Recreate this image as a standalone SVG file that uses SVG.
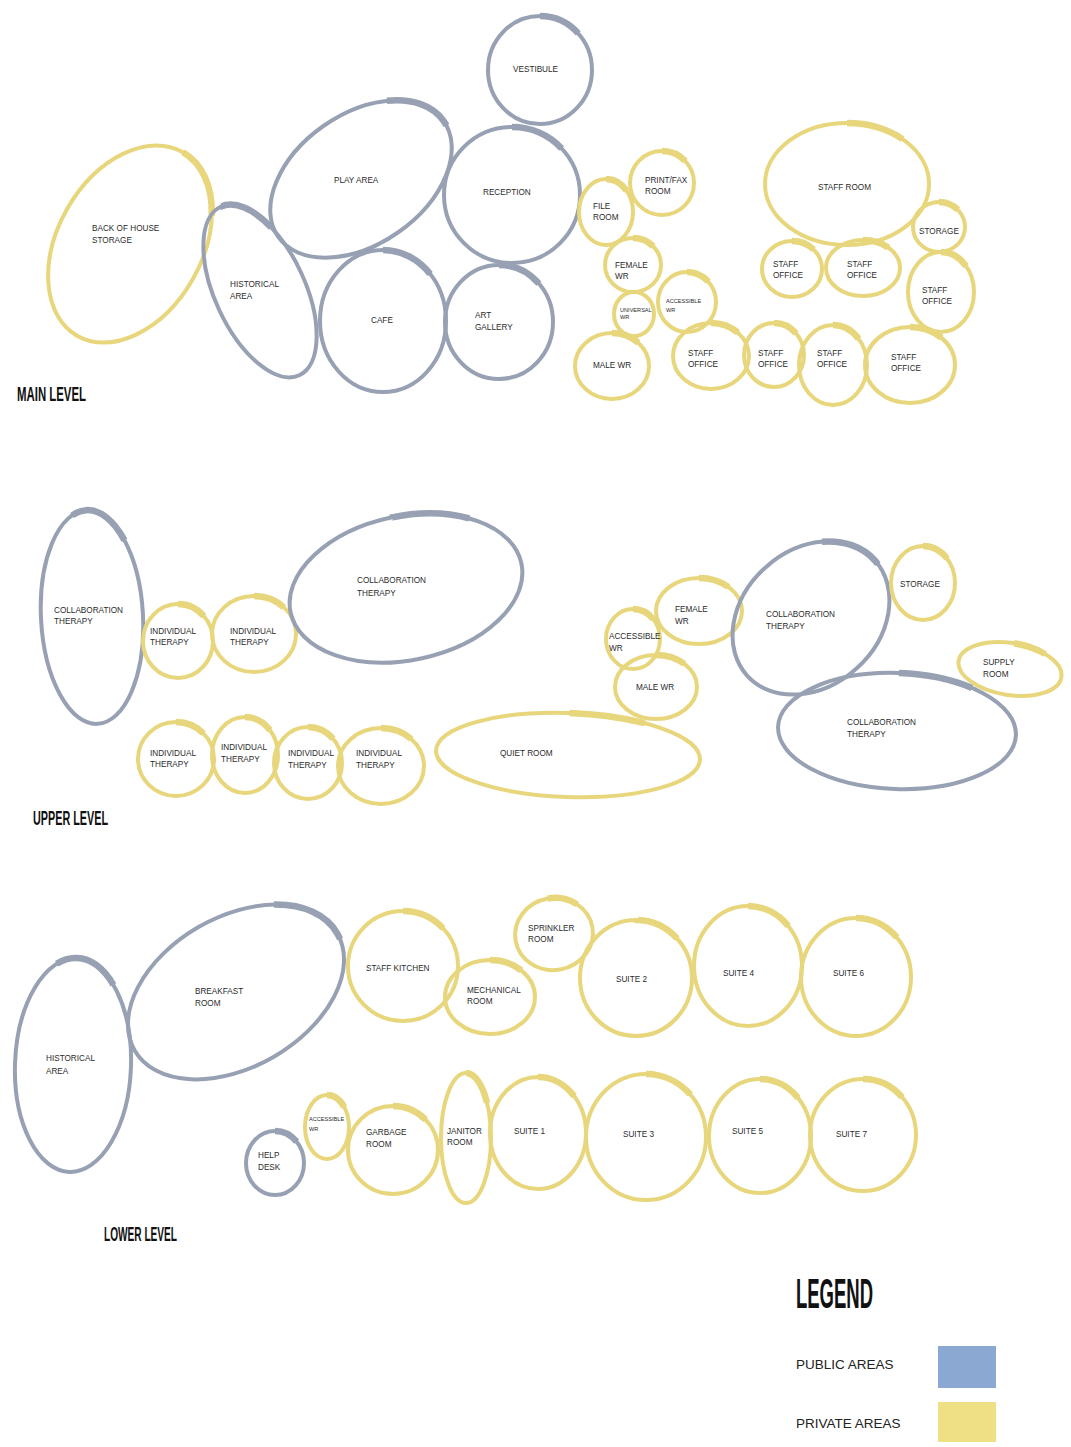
<svg xmlns="http://www.w3.org/2000/svg" width="1071" height="1447" viewBox="0 0 1071 1447">
<style>
.pub{fill:none;stroke:#97a1b3;stroke-width:4}
.pri{fill:none;stroke:#e8d67c;stroke-width:4}
.hi{stroke-width:6.5;stroke-dasharray:13 87;stroke-dashoffset:25}
.hr{stroke-dashoffset:12}
.lbl{font-family:"Liberation Sans",Arial,sans-serif;font-size:8.2px;fill:#2b2b2b}
.tiny{font-size:5.6px}
.head{font-family:"Liberation Sans",Arial,sans-serif;font-weight:bold;fill:#111}
.leg{font-family:"Liberation Sans",Arial,sans-serif;font-size:13.5px;fill:#222}
</style>
<rect width="1071" height="1447" fill="#ffffff"/>

<!-- MAIN LEVEL -->
<g id="m-vestibule"><ellipse class="pub" cx="540" cy="70" rx="52" ry="54"/><ellipse class="pub hi" cx="540" cy="70" rx="52" ry="54" pathLength="100"/><text class="lbl" x="513" y="72">VESTIBULE</text></g>
<g id="m-reception"><ellipse class="pub" cx="512" cy="195" rx="68" ry="68"/><ellipse class="pub hi" cx="512" cy="195" rx="68" ry="68" pathLength="100"/><text class="lbl" x="483" y="195">RECEPTION</text></g>
<g id="m-play"><g transform="translate(361,179) rotate(-35)"><ellipse class="pub" rx="101" ry="65"/><ellipse class="pub hi hr" rx="101" ry="65" pathLength="100"/></g><text class="lbl" x="334" y="183">PLAY AREA</text></g>
<g id="m-backofhouse"><g transform="translate(130,244) rotate(30)"><ellipse class="pri" rx="72" ry="106"/><ellipse class="pri hi" rx="72" ry="106" pathLength="100"/></g><text class="lbl" x="92" y="231">BACK OF HOUSE</text><text class="lbl" x="92" y="243">STORAGE</text></g>
<g id="m-historical"><g transform="translate(260,291) rotate(-25)"><ellipse class="pub" rx="45" ry="93"/><ellipse class="pub hi" rx="45" ry="93" pathLength="100"/></g><text class="lbl" x="230" y="287">HISTORICAL</text><text class="lbl" x="230" y="299">AREA</text></g>
<g id="m-cafe"><ellipse class="pub" cx="383" cy="321" rx="63" ry="71"/><ellipse class="pub hi" cx="383" cy="321" rx="63" ry="71" pathLength="100"/><text class="lbl" x="371" y="323">CAFE</text></g>
<g id="m-gallery"><ellipse class="pub" cx="499" cy="322" rx="54" ry="57"/><ellipse class="pub hi" cx="499" cy="322" rx="54" ry="57" pathLength="100"/><text class="lbl" x="475" y="318">ART</text><text class="lbl" x="475" y="330">GALLERY</text></g>
<g id="m-file"><ellipse class="pri" cx="606" cy="212" rx="27" ry="33"/><ellipse class="pri hi" cx="606" cy="212" rx="27" ry="33" pathLength="100"/><text class="lbl" x="593" y="209">FILE</text><text class="lbl" x="593" y="220">ROOM</text></g>
<g id="m-printfax"><ellipse class="pri" cx="662" cy="183" rx="32" ry="32"/><ellipse class="pri hi" cx="662" cy="183" rx="32" ry="32" pathLength="100"/><text class="lbl" x="645" y="183">PRINT/FAX</text><text class="lbl" x="645" y="194">ROOM</text></g>
<g id="m-femalewr"><ellipse class="pri" cx="633" cy="265" rx="28" ry="27"/><ellipse class="pri hi" cx="633" cy="265" rx="28" ry="27" pathLength="100"/><text class="lbl" x="615" y="268">FEMALE</text><text class="lbl" x="615" y="279">WR</text></g>
<g id="m-universalwr"><ellipse class="pri" cx="634" cy="314" rx="20" ry="22"/><text class="lbl tiny" x="620" y="312">UNIVERSAL</text><text class="lbl tiny" x="620" y="319">WR</text></g>
<g id="m-accessiblewr"><ellipse class="pri" cx="687" cy="302" rx="29" ry="30"/><ellipse class="pri hi" cx="687" cy="302" rx="29" ry="30" pathLength="100"/><text class="lbl tiny" x="666" y="303">ACCESSIBLE</text><text class="lbl tiny" x="666" y="312">WR</text></g>
<g id="m-malewr"><ellipse class="pri" cx="612" cy="366" rx="37" ry="33"/><ellipse class="pri hi" cx="612" cy="366" rx="37" ry="33" pathLength="100"/><text class="lbl" x="593" y="368">MALE WR</text></g>
<g id="m-office1"><ellipse class="pri" cx="711" cy="356" rx="38" ry="33"/><ellipse class="pri hi" cx="711" cy="356" rx="38" ry="33" pathLength="100"/><text class="lbl" x="688" y="356">STAFF</text><text class="lbl" x="688" y="367">OFFICE</text></g>
<g id="m-office2"><ellipse class="pri" cx="774" cy="355" rx="30" ry="32"/><ellipse class="pri hi" cx="774" cy="355" rx="30" ry="32" pathLength="100"/><text class="lbl" x="758" y="356">STAFF</text><text class="lbl" x="758" y="367">OFFICE</text></g>
<g id="m-office3"><ellipse class="pri" cx="833" cy="365" rx="34" ry="40"/><ellipse class="pri hi" cx="833" cy="365" rx="34" ry="40" pathLength="100"/><text class="lbl" x="817" y="356">STAFF</text><text class="lbl" x="817" y="367">OFFICE</text></g>
<g id="m-office4"><ellipse class="pri" cx="910" cy="365" rx="45" ry="38"/><ellipse class="pri hi" cx="910" cy="365" rx="45" ry="38" pathLength="100"/><text class="lbl" x="891" y="360">STAFF</text><text class="lbl" x="891" y="371">OFFICE</text></g>
<g id="m-staffroom"><ellipse class="pri" cx="847" cy="184" rx="82" ry="61"/><ellipse class="pri hi" cx="847" cy="184" rx="82" ry="61" pathLength="100"/><text class="lbl" x="818" y="190">STAFF ROOM</text></g>
<g id="m-storage"><ellipse class="pri" cx="939" cy="227" rx="26" ry="25"/><ellipse class="pri hi" cx="939" cy="227" rx="26" ry="25" pathLength="100"/><text class="lbl" x="919" y="234">STORAGE</text></g>
<g id="m-office5"><ellipse class="pri" cx="941" cy="292" rx="33" ry="40"/><ellipse class="pri hi" cx="941" cy="292" rx="33" ry="40" pathLength="100"/><text class="lbl" x="922" y="293">STAFF</text><text class="lbl" x="922" y="304">OFFICE</text></g>
<g id="m-office6"><ellipse class="pri" cx="792" cy="269" rx="30" ry="28"/><ellipse class="pri hi" cx="792" cy="269" rx="30" ry="28" pathLength="100"/><text class="lbl" x="773" y="267">STAFF</text><text class="lbl" x="773" y="278">OFFICE</text></g>
<g id="m-office7"><ellipse class="pri" cx="863" cy="268" rx="37" ry="28"/><ellipse class="pri hi" cx="863" cy="268" rx="37" ry="28" pathLength="100"/><text class="lbl" x="847" y="267">STAFF</text><text class="lbl" x="847" y="278">OFFICE</text></g>
<text class="head" x="17" y="401" font-size="21" textLength="69" lengthAdjust="spacingAndGlyphs">MAIN LEVEL</text>

<!-- UPPER LEVEL -->
<g id="u-collab1"><g transform="translate(92,617) rotate(-3)"><ellipse class="pub" rx="51" ry="107"/><ellipse class="pub hi" rx="51" ry="107" pathLength="100" style="stroke-dashoffset:28"/></g><text class="lbl" x="54" y="613">COLLABORATION</text><text class="lbl" x="54" y="624">THERAPY</text></g>
<g id="u-ind1"><ellipse class="pri" cx="178" cy="641" rx="35" ry="37"/><ellipse class="pri hi" cx="178" cy="641" rx="35" ry="37" pathLength="100"/><text class="lbl" x="150" y="634">INDIVIDUAL</text><text class="lbl" x="150" y="645">THERAPY</text></g>
<g id="u-ind2"><ellipse class="pri" cx="254" cy="634" rx="42" ry="38"/><ellipse class="pri hi" cx="254" cy="634" rx="42" ry="38" pathLength="100"/><text class="lbl" x="230" y="634">INDIVIDUAL</text><text class="lbl" x="230" y="645">THERAPY</text></g>
<g id="u-collab2"><g transform="translate(406,588) rotate(-12)"><ellipse class="pub" rx="118" ry="72"/><ellipse class="pub hi" rx="118" ry="72" pathLength="100"/></g><text class="lbl" x="357" y="583">COLLABORATION</text><text class="lbl" x="357" y="596">THERAPY</text></g>
<g id="u-ind3"><ellipse class="pri" cx="176" cy="759" rx="38" ry="37"/><ellipse class="pri hi" cx="176" cy="759" rx="38" ry="37" pathLength="100"/><text class="lbl" x="150" y="756">INDIVIDUAL</text><text class="lbl" x="150" y="767">THERAPY</text></g>
<g id="u-ind4"><ellipse class="pri" cx="245" cy="755" rx="33" ry="38"/><ellipse class="pri hi" cx="245" cy="755" rx="33" ry="38" pathLength="100"/><text class="lbl" x="221" y="750">INDIVIDUAL</text><text class="lbl" x="221" y="762">THERAPY</text></g>
<g id="u-ind5"><ellipse class="pri" cx="308" cy="763" rx="34" ry="36"/><ellipse class="pri hi" cx="308" cy="763" rx="34" ry="36" pathLength="100"/><text class="lbl" x="288" y="756">INDIVIDUAL</text><text class="lbl" x="288" y="768">THERAPY</text></g>
<g id="u-ind6"><ellipse class="pri" cx="381" cy="766" rx="43" ry="38"/><ellipse class="pri hi" cx="381" cy="766" rx="43" ry="38" pathLength="100"/><text class="lbl" x="356" y="756">INDIVIDUAL</text><text class="lbl" x="356" y="768">THERAPY</text></g>
<g id="u-quiet"><g transform="translate(568,755) rotate(2)"><ellipse class="pri" rx="132" ry="42"/><ellipse class="pri hi" rx="132" ry="42" pathLength="100"/></g><text class="lbl" x="500" y="756">QUIET ROOM</text></g>
<g id="u-accessiblewr"><ellipse class="pri" cx="633" cy="639" rx="27" ry="30"/><ellipse class="pri hi" cx="633" cy="639" rx="27" ry="30" pathLength="100"/><text class="lbl" x="609" y="639">ACCESSIBLE</text><text class="lbl" x="609" y="651">WR</text></g>
<g id="u-femalewr"><ellipse class="pri" cx="699" cy="611" rx="43" ry="33"/><ellipse class="pri hi" cx="699" cy="611" rx="43" ry="33" pathLength="100"/><text class="lbl" x="675" y="612">FEMALE</text><text class="lbl" x="675" y="624">WR</text></g>
<g id="u-malewr"><ellipse class="pri" cx="656" cy="687" rx="41" ry="32"/><ellipse class="pri hi" cx="656" cy="687" rx="41" ry="32" pathLength="100"/><text class="lbl" x="636" y="690">MALE WR</text></g>
<g id="u-collab3"><g transform="translate(811,618) rotate(-42)"><ellipse class="pub" rx="86" ry="68"/><ellipse class="pub hi hr" rx="86" ry="68" pathLength="100"/></g><text class="lbl" x="766" y="617">COLLABORATION</text><text class="lbl" x="766" y="629">THERAPY</text></g>
<g id="u-storage"><ellipse class="pri" cx="923" cy="583" rx="32" ry="37"/><ellipse class="pri hi" cx="923" cy="583" rx="32" ry="37" pathLength="100"/><text class="lbl" x="900" y="587">STORAGE</text></g>
<g id="u-supply"><g transform="translate(1010,669) rotate(9)"><ellipse class="pri" rx="52" ry="26"/><ellipse class="pri hi" rx="52" ry="26" pathLength="100"/></g><text class="lbl" x="983" y="665">SUPPLY</text><text class="lbl" x="983" y="677">ROOM</text></g>
<g id="u-collab4"><g transform="translate(897,731) rotate(2)"><ellipse class="pub" rx="119" ry="58"/><ellipse class="pub hi" rx="119" ry="58" pathLength="100"/></g><text class="lbl" x="847" y="725">COLLABORATION</text><text class="lbl" x="847" y="737">THERAPY</text></g>
<text class="head" x="33" y="825" font-size="21" textLength="75" lengthAdjust="spacingAndGlyphs">UPPER LEVEL</text>

<!-- LOWER LEVEL -->
<g id="l-historical"><g transform="translate(73,1065) rotate(2)"><ellipse class="pub" rx="58" ry="107"/><ellipse class="pub hi" rx="58" ry="107" pathLength="100" style="stroke-dashoffset:29"/></g><text class="lbl" x="46" y="1061">HISTORICAL</text><text class="lbl" x="46" y="1074">AREA</text></g>
<g id="l-breakfast"><g transform="translate(236,992) rotate(-30)"><ellipse class="pub" rx="117" ry="75"/><ellipse class="pub hi hr" rx="117" ry="75" pathLength="100"/></g><text class="lbl" x="195" y="994">BREAKFAST</text><text class="lbl" x="195" y="1006">ROOM</text></g>
<g id="l-kitchen"><ellipse class="pri" cx="403" cy="966" rx="55" ry="55"/><ellipse class="pri hi" cx="403" cy="966" rx="55" ry="55" pathLength="100"/><text class="lbl" x="366" y="971">STAFF KITCHEN</text></g>
<g id="l-mechanical"><ellipse class="pri" cx="490" cy="997" rx="45" ry="37"/><ellipse class="pri hi" cx="490" cy="997" rx="45" ry="37" pathLength="100"/><text class="lbl" x="467" y="993">MECHANICAL</text><text class="lbl" x="467" y="1004">ROOM</text></g>
<g id="l-sprinkler"><g transform="translate(554,934) rotate(-10)"><ellipse class="pri" rx="39" ry="36"/><ellipse class="pri hi" rx="39" ry="36" pathLength="100"/></g><text class="lbl" x="528" y="931">SPRINKLER</text><text class="lbl" x="528" y="942">ROOM</text></g>
<g id="l-suite2"><ellipse class="pri" cx="636" cy="978" rx="56" ry="58"/><ellipse class="pri hi" cx="636" cy="978" rx="56" ry="58" pathLength="100"/><text class="lbl" x="616" y="982">SUITE 2</text></g>
<g id="l-suite4"><ellipse class="pri" cx="748" cy="966" rx="54" ry="60"/><ellipse class="pri hi" cx="748" cy="966" rx="54" ry="60" pathLength="100"/><text class="lbl" x="723" y="976">SUITE 4</text></g>
<g id="l-suite6"><ellipse class="pri" cx="856" cy="977" rx="55" ry="59"/><ellipse class="pri hi" cx="856" cy="977" rx="55" ry="59" pathLength="100"/><text class="lbl" x="833" y="976">SUITE 6</text></g>
<g id="l-helpdesk"><ellipse class="pub" cx="275" cy="1163" rx="29" ry="32"/><ellipse class="pub hi" cx="275" cy="1163" rx="29" ry="32" pathLength="100"/><text class="lbl" x="258" y="1158">HELP</text><text class="lbl" x="258" y="1170">DESK</text></g>
<g id="l-accessiblewr"><ellipse class="pri" cx="327" cy="1127" rx="22" ry="32"/><ellipse class="pri hi" cx="327" cy="1127" rx="22" ry="32" pathLength="100"/><text class="lbl tiny" x="309" y="1121">ACCESSIBLE</text><text class="lbl tiny" x="309" y="1131">WR</text></g>
<g id="l-garbage"><ellipse class="pri" cx="393" cy="1150" rx="45" ry="44"/><ellipse class="pri hi" cx="393" cy="1150" rx="45" ry="44" pathLength="100"/><text class="lbl" x="366" y="1135">GARBAGE</text><text class="lbl" x="366" y="1147">ROOM</text></g>
<g id="l-janitor"><ellipse class="pri" cx="466" cy="1138" rx="25" ry="65"/><ellipse class="pri hi" cx="466" cy="1138" rx="25" ry="65" pathLength="100"/><text class="lbl" x="447" y="1134">JANITOR</text><text class="lbl" x="447" y="1145">ROOM</text></g>
<g id="l-suite1"><ellipse class="pri" cx="538" cy="1133" rx="48" ry="56"/><ellipse class="pri hi" cx="538" cy="1133" rx="48" ry="56" pathLength="100"/><text class="lbl" x="514" y="1134">SUITE 1</text></g>
<g id="l-suite3"><ellipse class="pri" cx="646" cy="1137" rx="60" ry="63"/><ellipse class="pri hi" cx="646" cy="1137" rx="60" ry="63" pathLength="100"/><text class="lbl" x="623" y="1137">SUITE 3</text></g>
<g id="l-suite5"><ellipse class="pri" cx="760" cy="1136" rx="51" ry="57"/><ellipse class="pri hi" cx="760" cy="1136" rx="51" ry="57" pathLength="100"/><text class="lbl" x="732" y="1134">SUITE 5</text></g>
<g id="l-suite7"><ellipse class="pri" cx="863" cy="1135" rx="53" ry="56"/><ellipse class="pri hi" cx="863" cy="1135" rx="53" ry="56" pathLength="100"/><text class="lbl" x="836" y="1137">SUITE 7</text></g>
<text class="head" x="104" y="1241" font-size="21" textLength="73" lengthAdjust="spacingAndGlyphs">LOWER LEVEL</text>

<!-- LEGEND -->
<g id="legend">
<text class="head" x="796" y="1308" font-size="42" textLength="77" lengthAdjust="spacingAndGlyphs">LEGEND</text>
<text class="leg" x="796" y="1369">PUBLIC AREAS</text>
<rect x="938" y="1346" width="58" height="42" fill="#8aa8d2"/>
<text class="leg" x="796" y="1428">PRIVATE AREAS</text>
<rect x="938" y="1402" width="58" height="40" fill="#efe085"/>
</g>
</svg>
